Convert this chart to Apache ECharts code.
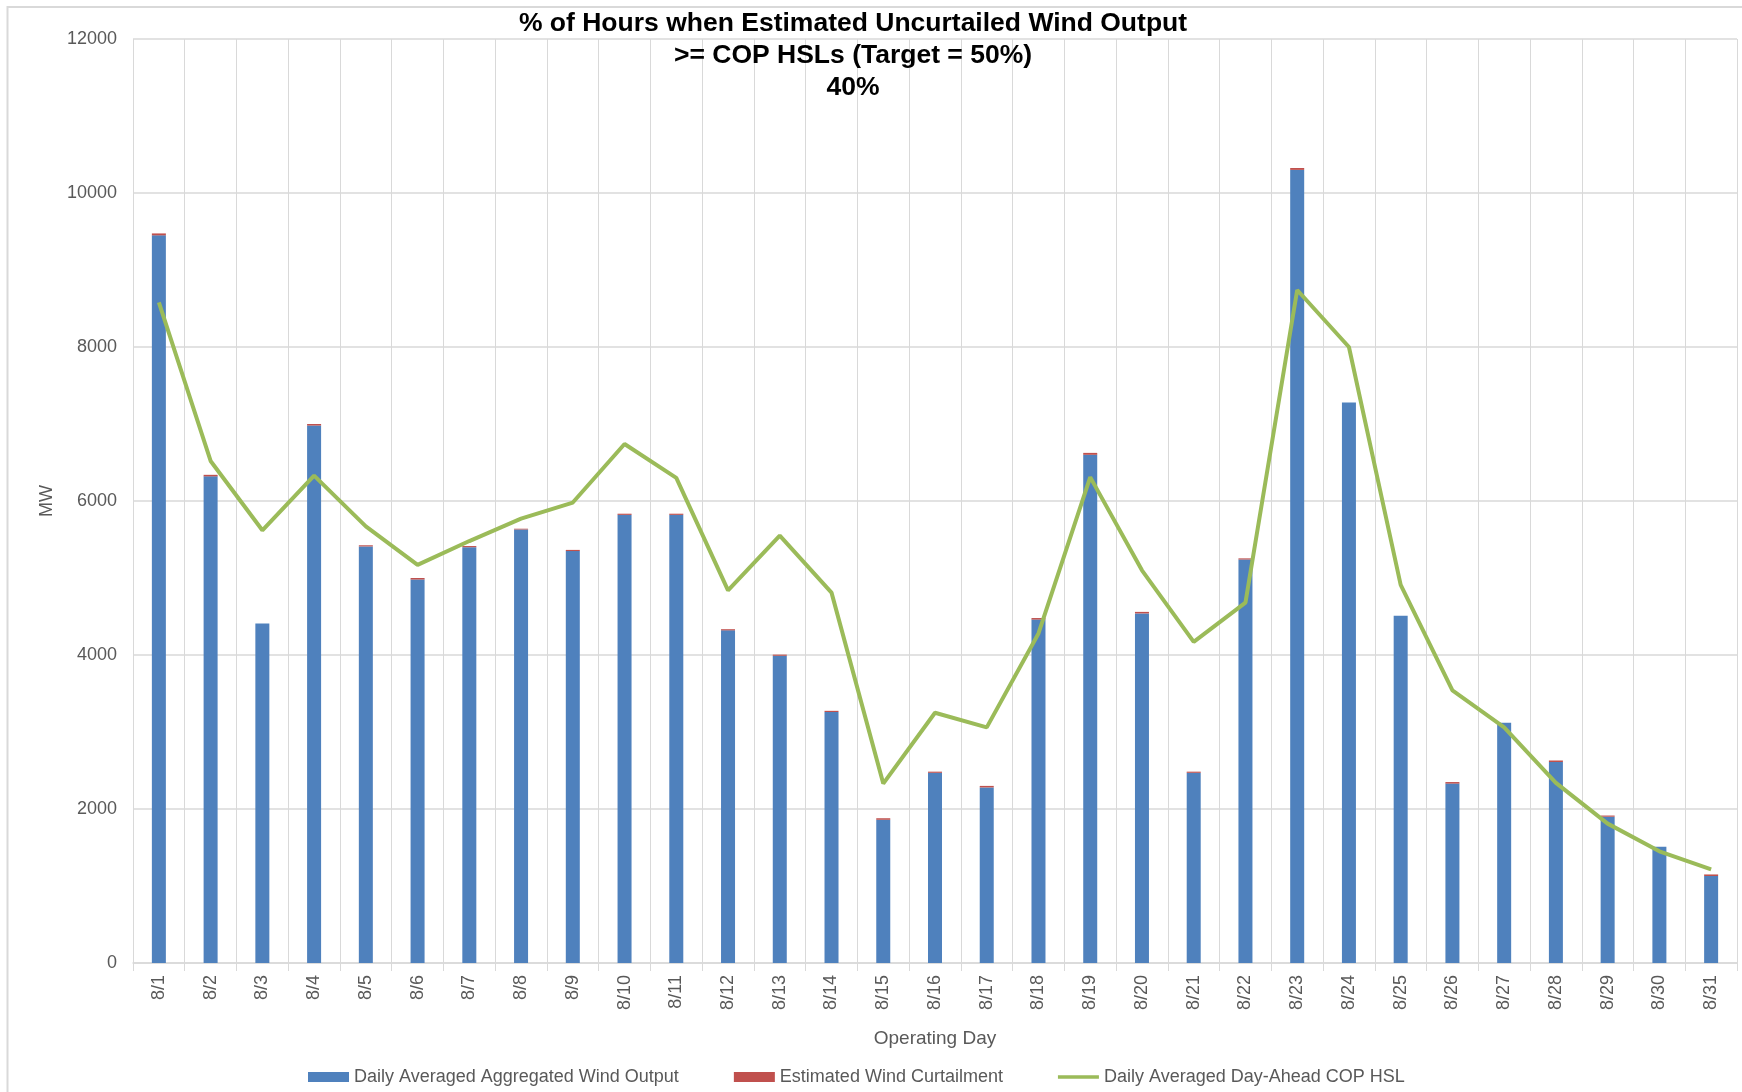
<!DOCTYPE html>
<html>
<head>
<meta charset="utf-8">
<style>
  html, body { margin: 0; padding: 0; background: #fff; }
  #chart { width: 1742px; height: 1092px; }
</style>
<script src="https://cdn.jsdelivr.net/npm/echarts@6/dist/echarts.min.js"></script>
</head>
<body>
<div id="chart"></div>
<script>
// days of August
var days = ["8/1", "8/2", "8/3", "8/4", "8/5", "8/6", "8/7", "8/8", "8/9", "8/10",
    "8/11", "8/12", "8/13", "8/14", "8/15", "8/16", "8/17", "8/18", "8/19", "8/20",
    "8/21", "8/22", "8/23", "8/24", "8/25", "8/26", "8/27", "8/28", "8/29", "8/30", "8/31"];

// Daily Averaged Aggregated Wind Output (MW)
var windOutput = [9450, 6320, 4410, 6980, 5410, 4980, 5400, 5630, 5350, 5820,
    5820, 4320, 3990, 3260, 1860, 2470, 2280, 4460, 6600, 4540,
    2470, 5240, 10300, 7280, 4510, 2330, 3120, 2610, 1900, 1510, 1130];

// Estimated Wind Curtailment (MW)
var curtailment = [25, 20, 0, 20, 15, 20, 15, 10, 15, 15,
    15, 15, 15, 15, 20, 15, 20, 20, 25, 20,
    15, 15, 25, 0, 0, 20, 0, 20, 15, 0, 20];

// Daily Averaged Day-Ahead COP HSL (MW)
var copHsl = [8580, 6520, 5620, 6330, 5670, 5170, 5480, 5770, 5980, 6740,
    6300, 4840, 5550, 4810, 2330, 3250, 3060, 4280, 6310, 5100,
    4170, 4680, 8740, 8000, 4910, 3540, 3060, 2340, 1810, 1450, 1215];

var gridColor = '#d9d9d9';
var textColor = '#595959';
var font = 'Liberation Sans';

var myChart = echarts.init(document.getElementById('chart'));
var option = {
    backgroundColor: '#ffffff',
    animation: false,
    title: {
        text: '% of Hours when Estimated Uncurtailed Wind Output\n>= COP HSLs (Target = 50%)\n40%',
        left: 853,
        top: 8,
        textAlign: 'center',
        padding: 0,
        textStyle: {
            fontFamily: font,
            fontSize: 26.5,
            fontWeight: 'bold',
            lineHeight: 32,
            color: '#000000'
        }
    },
    graphic: [
        {
            type: 'rect',
            silent: true,
            shape: { x: 7.5, y: 7, width: 1760, height: 1100 },
            style: { fill: 'none', stroke: gridColor, lineWidth: 2 }
        }
    ],
    legend: {
        left: 303,
        top: 1063,
        itemWidth: 41,
        itemHeight: 10,
        itemGap: 55,
        textStyle: { fontFamily: font, fontSize: 18, color: textColor },
        data: [
            { name: 'Daily Averaged Aggregated Wind Output', icon: 'rect' },
            { name: 'Estimated Wind Curtailment', icon: 'rect' },
            {
                name: 'Daily Averaged Day-Ahead COP HSL',
                icon: 'path://M0,0 L0.01,0 M0,3.2 L41,3.2 L41,6.8 L0,6.8 Z M40.99,10 L41,10'
            }
        ]
    },
    grid: {
        left: 133,
        right: 5,
        top: 39,
        bottom: 129,
        containLabel: false
    },
    xAxis: [
        {
            type: 'category',
            data: days,
            boundaryGap: true,
            name: 'Operating Day',
            nameLocation: 'middle',
            nameGap: 66,
            nameTextStyle: { fontFamily: font, fontSize: 19, color: textColor },
            axisLine: { show: true, lineStyle: { color: gridColor, width: 1.5 } },
            axisTick: { show: true, length: 8, lineStyle: { color: gridColor } },
            axisLabel: {
                rotate: 90,
                margin: 12,
                interval: 0,
                fontFamily: font,
                fontSize: 18,
                color: textColor
            },
            splitLine: { show: true, interval: 0, lineStyle: { color: gridColor, width: 1 } }
        }
    ],
    yAxis: [
        {
            type: 'value',
            min: 0,
            max: 12000,
            interval: 2000,
            name: 'MW',
            nameLocation: 'middle',
            nameGap: 76,
            nameTextStyle: { fontFamily: font, fontSize: 18, color: textColor },
            axisLine: { show: false },
            axisTick: { show: false },
            axisLabel: {
                margin: 16,
                fontFamily: font,
                fontSize: 18,
                color: textColor,
                formatter: function (v) { return String(v); }
            },
            splitLine: { show: true, lineStyle: { color: gridColor, width: 1.5 } }
        }
    ],
    series: [
        {
            name: 'Daily Averaged Aggregated Wind Output',
            type: 'bar',
            stack: 'wind',
            barWidth: 14,
            itemStyle: { color: '#4f81bd' },
            data: windOutput
        },
        {
            name: 'Estimated Wind Curtailment',
            type: 'bar',
            stack: 'wind',
            barWidth: 14,
            itemStyle: { color: '#c0504d' },
            data: curtailment
        },
        {
            name: 'Daily Averaged Day-Ahead COP HSL',
            type: 'line',
            symbol: 'none',
            showSymbol: false,
            lineStyle: { color: '#9bbb59', width: 4 },
            itemStyle: { color: '#9bbb59' },
            data: copHsl,
            z: 5
        }
    ]
};
// 为echarts对象加载数据
myChart.setOption(option);
</script>
</body>
</html>
